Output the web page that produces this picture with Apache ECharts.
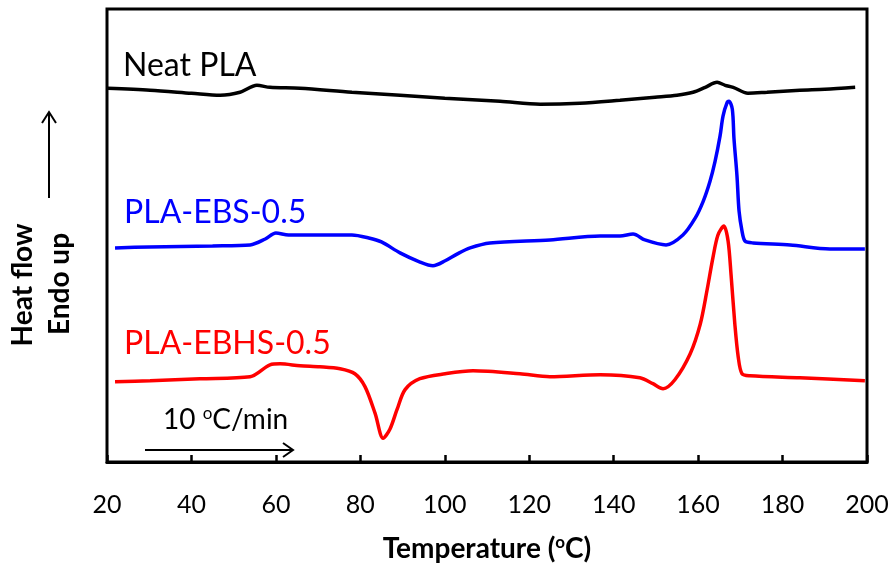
<!DOCTYPE html>
<html>
<head>
<meta charset="utf-8">
<script src="https://cdn.jsdelivr.net/npm/echarts@6/dist/echarts.min.js"></script>
<style>
html, body { margin: 0; padding: 0; background: #fff; }
#main { width: 893px; height: 569px; }
</style>
</head>
<body>
<div id="main"></div>
<script>
// x ticks
let xTicks = [20, 40, 60, 80, 100, 120, 140, 160, 180, 200]

// Neat PLA (offset heat flow, arbitrary units)
let tempNeat = [20.2, 30.2, 40, 46.8, 51.5, 55.5, 58.6, 65.7, 78, 89.4, 100, 113.1, 122.6, 132, 141.5, 149.8, 155, 158.8, 161.7, 164.5, 166.4, 168.3, 171.8, 176.3, 184.1, 190, 197.2]
let heatNeat = [377, 375, 372, 370, 373, 380, 378, 377, 373, 370, 367, 364, 361, 362, 365, 368, 370, 373, 378, 383, 380, 378, 372, 373, 375, 376, 378]

// PLA-EBS-0.5
let tempEBS = [21.9, 30, 45, 53.9, 57.5, 60, 63, 70, 78, 82, 85, 89.4, 94, 97.2, 100.1, 103, 106, 110.7, 124.9, 136.8, 141.5, 144.6, 147.4, 152.4, 156.4, 159.3, 161.2, 162.8, 164.0, 165.2, 165.9, 166.9, 167.3, 168.1, 168.5, 169.2, 169.7, 170.4, 171.1, 173, 181.8, 191.2, 199.5]
let heatEBS = [216, 217, 218, 219, 225, 231, 229, 229, 229, 226, 222, 211, 202, 198, 203, 210, 216, 221, 224, 228, 228, 230, 224, 219, 229, 246, 263, 283, 303, 329, 349, 363, 364, 356, 326, 289, 253, 233, 223, 221, 219, 215, 215]

// PLA-EBHS-0.5
let tempEBHS = [21.9, 30.2, 42, 53.9, 58.6, 61, 65.7, 70.4, 75.2, 78.7, 81.1, 83.5, 85.4, 87, 88.7, 90.6, 94.1, 100.1, 106.7, 117.8, 124.9, 136.8, 146.2, 149.3, 151.7, 154.5, 158.1, 160.5, 162.1, 163.5, 164.7, 166.1, 167.1, 167.8, 168.7, 169.5, 170.4, 172.3, 184.1, 199.5]
let heatEBHS = [81, 82, 84, 86, 98, 99, 97, 96, 94, 89, 76, 49, 24, 33, 53, 73, 84, 89, 92, 89, 86, 88, 85, 79, 74, 83, 109, 139, 173, 206, 229, 238, 223, 189, 139, 106, 89, 87, 85, 82]

function pairs(xs, ys) {
	let out = []
	for (let i = 0; i < xs.length; i++) out.push([xs[i], ys[i]])
	return out
}

let myChart = echarts.init(document.getElementById('main'))
let font = 'Lato'

let chartOption = {
	animation: false,
	grid: {
		left: 107, right: 26, top: 9, bottom: 103,
		show: true, borderColor: '#000', borderWidth: 3
	},
	xAxis: {
		type: 'value',
		min: xTicks[0],
		max: xTicks[xTicks.length - 1],
		interval: 20,
		name: 'Temperature ({sup|o}C)',
		nameLocation: 'middle',
		nameGap: 72,
		nameTextStyle: {
			fontFamily: font, fontSize: 28, fontWeight: 'bold', color: '#000', lineHeight: 30,
			rich: { sup: { fontFamily: font, fontSize: 17, fontWeight: 'bold', color: '#000', verticalAlign: 'top', lineHeight: 17 } }
		},
		axisLine: { show: true, lineStyle: { color: '#000', width: 3 } },
		axisTick: { show: true, inside: true, length: 7, lineStyle: { color: '#000', width: 2.5 } },
		axisLabel: { fontFamily: font, fontSize: 25, color: '#000', margin: 30 },
		splitLine: { show: false }
	},
	yAxis: {
		type: 'value',
		min: 0,
		max: 457,
		show: false
	},
	series: [
		{ type: 'line', data: pairs(tempNeat, heatNeat), smooth: 0.3, showSymbol: false, lineStyle: { color: '#000', width: 3.5 } },
		{ type: 'line', data: pairs(tempEBS, heatEBS), smooth: 0.3, showSymbol: false, lineStyle: { color: '#0000ff', width: 3.5 } },
		{ type: 'line', data: pairs(tempEBHS, heatEBHS), smooth: 0.3, showSymbol: false, lineStyle: { color: '#ff0000', width: 3.5 } }
	],
	graphic: [
		{ type: 'text', left: 123, top: 50, style: { text: 'Neat PLA', fontFamily: font, fontSize: 32, fill: '#000' } },
		{ type: 'text', left: 124, top: 197, style: { text: 'PLA-EBS-0.5', fontFamily: font, fontSize: 32, fill: '#0000ff' } },
		{ type: 'text', left: 124, top: 328, style: { text: 'PLA-EBHS-0.5', fontFamily: font, fontSize: 32, fill: '#ff0000' } },
		{ type: 'text', left: 163, top: 405, style: {
			text: '10 {sup|o}C/min', fontFamily: font, fontSize: 28, fill: '#000', lineHeight: 30,
			rich: { sup: { fontFamily: font, fontSize: 17, fill: '#000', verticalAlign: 'top', lineHeight: 17 } }
		} },
		// rate arrow
		{ type: 'line', shape: { x1: 145, y1: 450, x2: 293, y2: 450 }, style: { stroke: '#000', lineWidth: 2 } },
		{ type: 'polyline', shape: { points: [[283, 443], [293, 450], [283, 457]] }, style: { stroke: '#000', lineWidth: 2, fill: null } },
		// y title
		{ type: 'text', x: 23, y: 285, rotation: Math.PI / 2, style: { text: 'Heat flow', fontFamily: font, fontSize: 28, fontWeight: 'bold', fill: '#000', align: 'center', verticalAlign: 'middle' } },
		{ type: 'text', x: 60, y: 284, rotation: Math.PI / 2, style: { text: 'Endo up', fontFamily: font, fontSize: 28, fontWeight: 'bold', fill: '#000', align: 'center', verticalAlign: 'middle' } },
		{ type: 'line', shape: { x1: 49, y1: 198, x2: 49, y2: 112 }, style: { stroke: '#000', lineWidth: 2 } },
		{ type: 'polyline', shape: { points: [[42, 123], [49, 112], [56, 123]] }, style: { stroke: '#000', lineWidth: 2, fill: null } }
	]
}

chartOption && myChart.setOption(chartOption)
</script>
</body>
</html>
